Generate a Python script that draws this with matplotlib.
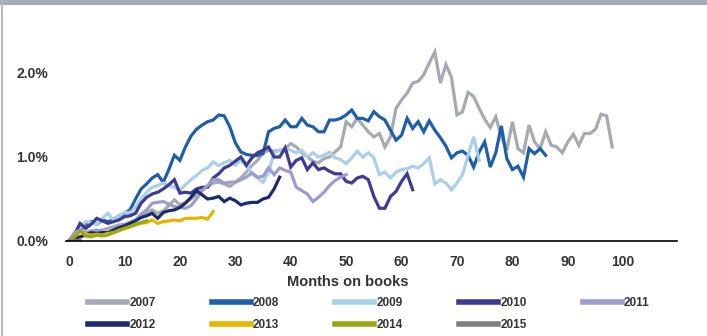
import numpy as np
import matplotlib
matplotlib.use('Agg')
import matplotlib.pyplot as plt
from matplotlib.patches import Rectangle

plt.rcParams['font.family'] = ['Liberation Sans', 'DejaVu Sans']

# ── Data: cumulative loss rate (%) by months on books, one list per vintage ──
v2007 = [0.0, 0.02, 0.05, 0.08, 0.1, 0.12, 0.13, 0.15, 0.17, 0.19, 0.2,
         0.22, 0.25, 0.28, 0.33, 0.37, 0.33, 0.36, 0.42, 0.49, 0.43,
         0.46, 0.5, 0.55, 0.6, 0.65, 0.69, 0.7, 0.68, 0.65, 0.7,
         0.75, 0.82, 0.9, 0.96, 1.05, 1.08, 1.07, 1.08, 1.1, 1.16,
         1.12, 1.05, 1.0, 0.95, 0.93, 0.98, 1.0, 1.06, 1.12, 1.42,
         1.36, 1.46, 1.38, 1.3, 1.24, 1.28, 1.12, 1.24, 1.58, 1.68,
         1.76, 1.88, 1.9, 1.98, 2.12, 2.25, 1.88, 2.1, 1.95, 1.5,
         1.54, 1.77, 1.72, 1.58, 1.45, 1.35, 1.48, 1.24, 1.08, 1.42,
         1.1, 1.05, 1.38, 1.18, 1.1, 1.3, 1.14, 1.12, 1.05, 1.18,
         1.27, 1.14, 1.28, 1.28, 1.33, 1.51, 1.49, 1.12]
v2008 = [0.0, 0.07, 0.13, 0.2, 0.23, 0.2, 0.25, 0.23, 0.25, 0.3, 0.33,
         0.37, 0.5, 0.62, 0.68, 0.75, 0.79, 0.7, 0.85, 1.02, 0.96,
         1.12, 1.25, 1.33, 1.38, 1.42, 1.44, 1.5, 1.49, 1.36, 1.17,
         1.06, 1.03, 1.02, 1.02, 1.04, 1.3, 1.34, 1.36, 1.44, 1.36,
         1.36, 1.46, 1.38, 1.36, 1.3, 1.3, 1.44, 1.44, 1.46, 1.5,
         1.56, 1.46, 1.46, 1.43, 1.54, 1.48, 1.44, 1.32, 1.2, 1.26,
         1.46, 1.34, 1.42, 1.3, 1.43, 1.32, 1.23, 1.13, 0.99, 1.05,
         1.07, 1.02, 0.88, 1.06, 1.18, 0.88, 1.05, 1.37, 0.98, 0.85,
         0.89, 0.76, 1.1, 1.04, 1.1, 1.02]
v2009 = [0.0, 0.1, 0.15, 0.23, 0.22, 0.2, 0.27, 0.33, 0.25, 0.3, 0.34,
         0.34, 0.4, 0.5, 0.58, 0.64, 0.66, 0.69, 0.66, 0.64, 0.6,
         0.67, 0.73, 0.78, 0.84, 0.87, 0.94, 0.9, 0.93, 0.96, 0.9,
         0.96, 0.9, 0.8, 0.75, 0.7, 0.82, 1.05, 1.08, 1.1, 1.08,
         1.05, 1.08, 1.0, 1.05, 1.0, 1.02, 1.06, 0.99, 0.97, 0.92,
         0.99, 1.07, 1.0, 1.05, 0.99, 0.79, 0.82, 0.75, 0.82, 0.85,
         0.86, 0.89, 0.87, 0.92, 0.99, 0.68, 0.73, 0.69, 0.61, 0.69,
         0.79, 1.02, 1.24, 0.96]
v2010 = [0.0, 0.08, 0.21, 0.15, 0.2, 0.27, 0.24, 0.21, 0.23, 0.25, 0.29,
         0.3, 0.33, 0.45, 0.52, 0.56, 0.58, 0.62, 0.67, 0.73, 0.57,
         0.58, 0.57, 0.62, 0.64, 0.64, 0.75, 0.8, 0.87, 0.9, 0.95,
         1.0, 0.9, 0.99, 1.05, 1.08, 1.12, 1.0, 1.0, 1.11, 0.88,
         0.96, 0.99, 0.85, 0.93, 0.85, 0.87, 0.83, 0.8, 0.8, 0.71,
         0.69, 0.75, 0.77, 0.73, 0.53, 0.39, 0.39, 0.53, 0.59, 0.71,
         0.8, 0.61]
v2011 = [0.0, 0.1, 0.13, 0.1, 0.12, 0.13, 0.11, 0.1, 0.13, 0.15, 0.19,
         0.22, 0.25, 0.32, 0.37, 0.45, 0.46, 0.47, 0.44, 0.41, 0.4,
         0.39, 0.42, 0.5, 0.6, 0.66, 0.73, 0.73, 0.69, 0.7, 0.7,
         0.73, 0.76, 0.81, 0.76, 0.77, 0.87, 0.79, 0.87, 0.84, 0.82,
         0.64, 0.6, 0.56, 0.47, 0.52, 0.58, 0.66, 0.72, 0.76, 0.79]
v2012 = [0.0, 0.03, 0.05, 0.07, 0.1, 0.09, 0.1, 0.1, 0.13, 0.16, 0.18,
         0.21, 0.24, 0.28, 0.3, 0.33, 0.27, 0.34, 0.36, 0.37, 0.4,
         0.45, 0.52, 0.6, 0.55, 0.5, 0.51, 0.53, 0.47, 0.51, 0.48,
         0.43, 0.45, 0.46, 0.46, 0.5, 0.52, 0.62, 0.76]
v2013 = [0.0, 0.05, 0.12, 0.08, 0.07, 0.08, 0.07, 0.09, 0.1, 0.12, 0.15,
         0.17, 0.19, 0.21, 0.22, 0.25, 0.21, 0.23, 0.24, 0.25, 0.24,
         0.27, 0.27, 0.27, 0.28, 0.26, 0.35]
v2014 = [0.0, 0.05, 0.12, 0.06, 0.05, 0.07, 0.06, 0.07, 0.1, 0.13, 0.15,
         0.17, 0.2, 0.22, 0.24]
v2015 = [0.0, 0.0, 0.01]

vintages = ['2007', '2008', '2009', '2010', '2011', '2012', '2013', '2014', '2015']
series = [v2007, v2008, v2009, v2010, v2011, v2012, v2013, v2014, v2015]
colors = ['#a5abb0', '#1f5ea8', '#a9d0ea', '#3c3c94', '#9c9ccf',
          '#1b2a6b', '#e6b500', '#99a815', '#7f7f7f']

xticks = [0, 10, 20, 30, 40, 50, 60, 70, 80, 90, 100]
yticks = [0.0, 1.0, 2.0]

# ── Figure ──────────────────────────────────────────────────────────────────
W, H = 707, 336
fig = plt.figure(figsize=(W / 100, H / 100), dpi=100)
fig.patch.set_facecolor('white')

# report frame: grey band on top, thin line on the left
fig.patches.append(Rectangle((0, 1 - 5 / H), 1, 5 / H, transform=fig.transFigure,
                             facecolor='#a4abb3', edgecolor='none', zorder=0))
fig.patches.append(Rectangle((1 / W, 0), 2 / W, 1, transform=fig.transFigure,
                             facecolor='#b4b9be', edgecolor='none', zorder=0))

ax = fig.add_axes([66 / W, (H - 241) / H, 611 / W, 2.4 * 84 / H])

for name, vals, c in zip(vintages, series, colors):
    ax.plot(np.arange(len(vals)), vals, color=c, linewidth=2.3,
            solid_joinstyle='miter', label=name)

ax.set_xlim(-0.55, 109.7)
ax.set_ylim(0, 2.4)
ax.set_xticks(xticks)
ax.set_yticks(yticks)
ax.set_yticklabels([f'{v:.1f}%' for v in yticks])
ax.tick_params(axis='both', length=0, labelsize=10, labelcolor='#333333')
ax.tick_params(axis='x', pad=10)
ax.tick_params(axis='y', pad=13)
for lab in ax.get_xticklabels() + ax.get_yticklabels():
    lab.set_fontweight('bold')

for s in ['top', 'right', 'left']:
    ax.spines[s].set_visible(False)
ax.spines['bottom'].set_color('#000000')
ax.spines['bottom'].set_linewidth(1.2)

ax.set_xlabel('Months on books', fontsize=10.5, fontweight='bold', color='#333333')
ax.xaxis.set_label_coords((348 - 66) / 611, -(275 - 241) / (2.4 * 84), transform=ax.transAxes)

# legend fills row by row: reorder for matplotlib's column-major layout
handles, labels = ax.get_legend_handles_labels()
ncol = 5
order = [r * ncol + c for c in range(ncol) for r in range(2) if r * ncol + c < len(handles)]
leg = fig.legend([handles[i] for i in order], [labels[i] for i in order],
                 loc='upper left', ncol=ncol,
                 bbox_to_anchor=(88 / W, 1 - 297 / H), frameon=False,
                 fontsize=8.5, handlelength=3.3, handletextpad=0.2,
                 columnspacing=4.75, labelspacing=0.85,
                 borderpad=0, borderaxespad=0)
for t in leg.get_texts():
    t.set_fontweight('bold')
    t.set_color('#333333')
for h in leg.get_lines():
    h.set_linewidth(4)

fig.savefig('out.png', dpi=100)
